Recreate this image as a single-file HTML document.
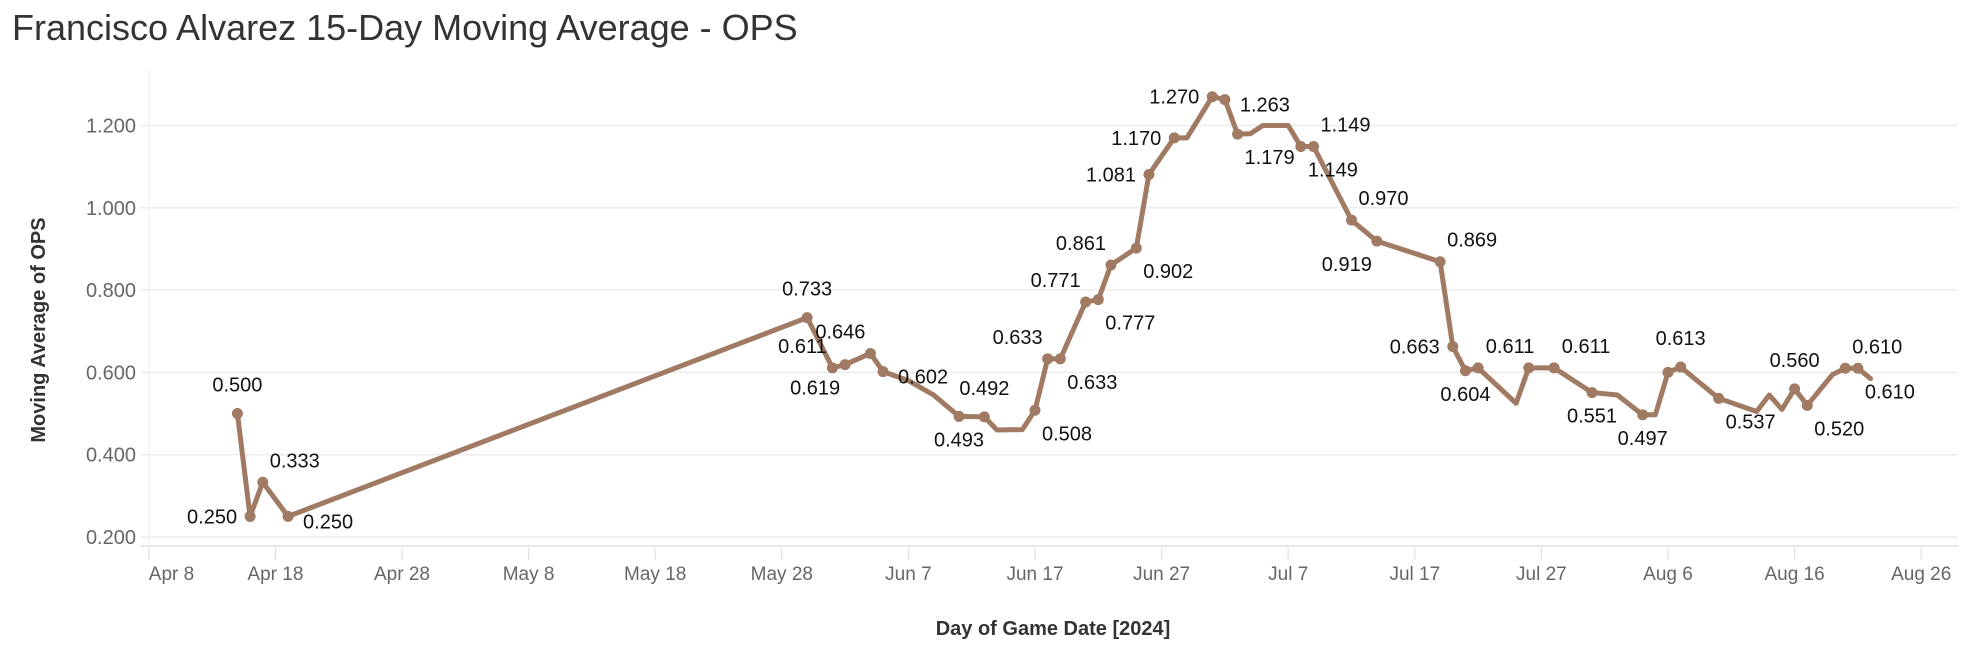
<!DOCTYPE html>
<html><head><meta charset="utf-8"><style>
html,body{margin:0;padding:0;background:#fff;}
svg{display:block;font-family:"Liberation Sans",sans-serif;}
</style></head><body>
<svg id="chart" width="1974" height="660" viewBox="0 0 1974 660" xmlns="http://www.w3.org/2000/svg">
<text x="12" y="40" font-size="36" fill="#333">Francisco Alvarez 15-Day Moving Average - OPS</text>
<g id="grid"></g><g id="axes"></g><g id="series"></g><g id="labels"></g>
<text x="1053" y="635" font-size="20" font-weight="bold" fill="#333" text-anchor="middle">Day of Game Date [2024]</text>
<text transform="translate(45,330) rotate(-90)" font-size="20" font-weight="bold" fill="#333" text-anchor="middle">Moving Average of OPS</text>
</svg>
<script>
const dates = ["04-15","04-16","04-17","04-19","05-30","06-01","06-02","06-04","06-05","06-07","06-09","06-11","06-13","06-14","06-16","06-17","06-18","06-19","06-21","06-22","06-23","06-25","06-26","06-28","06-29","07-01","07-02","07-03","07-04","07-05","07-07","07-08","07-09","07-12","07-14","07-19","07-20","07-21","07-22","07-25","07-26","07-28","07-31","08-02","08-04","08-05","08-06","08-07","08-10","08-13","08-14","08-15","08-16","08-17","08-19","08-20","08-21","08-22"];
const values = [0.500,0.250,0.333,0.250,0.733,0.611,0.619,0.646,0.602,0.580,0.545,0.493,0.492,0.460,0.461,0.508,0.633,0.633,0.771,0.777,0.861,0.902,1.081,1.170,1.170,1.270,1.263,1.179,1.180,1.200,1.200,1.149,1.149,0.970,0.919,0.869,0.663,0.604,0.611,0.525,0.611,0.611,0.551,0.545,0.497,0.497,0.600,0.613,0.537,0.505,0.545,0.510,0.560,0.520,0.595,0.610,0.610,0.585];
const markers = [1,1,1,1,1,1,1,1,1,0,0,1,1,0,0,1,1,1,1,1,1,1,1,1,0,1,1,1,0,0,0,1,1,1,1,1,1,1,1,0,1,1,1,0,1,0,1,1,1,0,0,0,1,1,0,1,1,0];
const labelPos = ["a","l","ar","r","a","al","bl","al","r","","","b","a","","","br","al","br","al","br","al","br","l","l","","l","r","br","","","","br","ar","ar","bl","ar","l","b","ar","","","ar","b","","b","","","a","br","","","","a","br","","ar","br",""];
const yTicks = [0.2,0.4,0.6,0.8,1.0,1.2];
const xTickLabels = ["Apr 8","Apr 18","Apr 28","May 8","May 18","May 28","Jun 7","Jun 17","Jun 27","Jul 7","Jul 17","Jul 27","Aug 6","Aug 16","Aug 26"];

const NS="http://www.w3.org/2000/svg";
const L=148.8, R=1958, PX=12.66, Y0=537, YS=411.5;
const base=new Date(2024,3,8);
function dayOf(s){const [m,d]=s.split("-").map(Number);return Math.round((new Date(2024,m-1,d)-base)/86400000);}
const xs=d=>L+d*PX, ys=v=>Y0-(v-0.2)*YS;
function mk(tag,attrs,parent){const e=document.createElementNS(NS,tag);for(const k in attrs)e.setAttribute(k,attrs[k]);parent.appendChild(e);return e;}
const grid=document.getElementById('grid'),axes=document.getElementById('axes'),series=document.getElementById('series'),labels=document.getElementById('labels');
mk('line',{x1:L,y1:70,x2:L,y2:545,stroke:'#eee','stroke-width':1.2},grid);
yTicks.forEach(v=>{
  const ln=mk('line',{x1:L-8,y1:ys(v),x2:R,y2:ys(v),stroke:'#ececec','stroke-width':1.5},grid);
  
  
  const t=mk('text',{x:136,y:ys(v)+7,'font-size':20,fill:'#666','text-anchor':'end'},axes);
  t.textContent=v.toFixed(3);
  
  
});
mk('line',{x1:L-8,y1:546,x2:R,y2:546,stroke:'#e6e6e6','stroke-width':2},axes);
xTickLabels.forEach((s,i)=>{
  const x=xs(i*10);
  const tk=mk('line',{x1:x,y1:548,x2:x,y2:560,stroke:'#e0e0e0','stroke-width':1.2},axes);
  
  
  const t=mk('text',{x:x,y:580,'font-size':19,fill:'#666','text-anchor':i===0?'start':'middle'},axes);
  t.textContent=s;
  
  
});
const pts=dates.map((d,i)=>[xs(dayOf(d)),ys(values[i])]);
const path=mk('polyline',{points:pts.map(p=>p.join(',')).join(' '),fill:'none',stroke:'#A07A62','stroke-width':5,'stroke-linejoin':'round','stroke-linecap':'round'},series);


const off={a:[0,-22],b:[0,30],l:[-38,7],r:[40,12],ar:[32,-15],al:[-30,-15],br:[32,30],bl:[-30,30]};
pts.forEach((p,i)=>{
  if(markers[i]){
    const c=mk('circle',{cx:p[0],cy:p[1],r:5.5,fill:'#A07A62'},series);
    
    
  }
  const lp=labelPos[i];
  if(lp){
    const o=off[lp];
    const t=mk('text',{x:p[0]+o[0],y:p[1]+o[1],'font-size':20,fill:'#111','text-anchor':'middle'},labels);
    t.textContent=values[i].toFixed(3);
    
    
  }
});
</script>
</body></html>
